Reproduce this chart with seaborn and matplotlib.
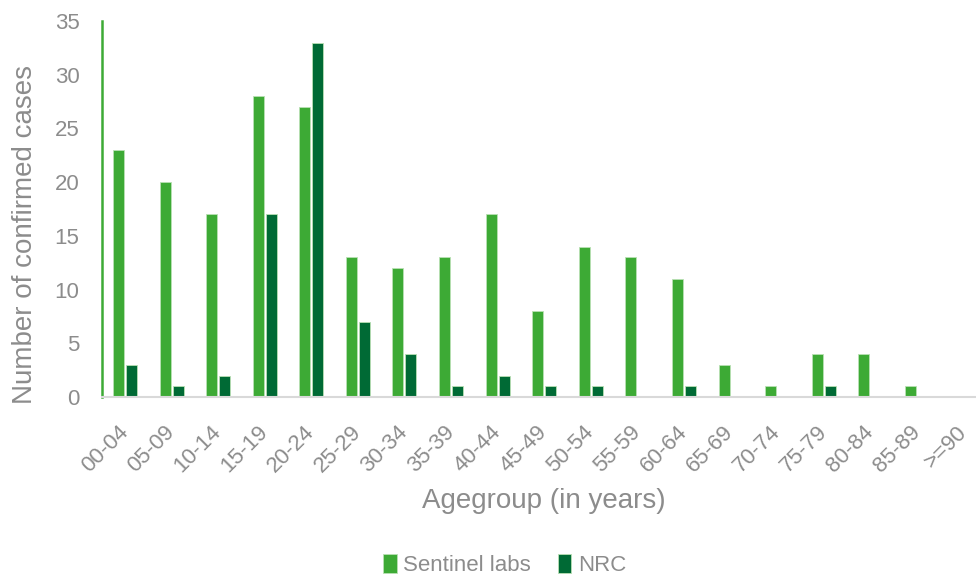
import numpy as np
import pandas as pd
import matplotlib.pyplot as plt
import seaborn as sns

# data
agegroups = ['00-04', '05-09', '10-14', '15-19', '20-24', '25-29', '30-34', '35-39',
             '40-44', '45-49', '50-54', '55-59', '60-64', '65-69', '70-74', '75-79',
             '80-84', '85-89', '>=90']
sentinel = [23, 20, 17, 28, 27, 13, 12, 13, 17, 8, 14, 13, 11, 3, 1, 4, 4, 1, 0]
nrc = [3, 1, 2, 17, 33, 7, 4, 1, 2, 1, 1, 0, 1, 0, 0, 1, 0, 0, 0]

df = pd.concat([
    pd.DataFrame({'group': agegroups, 'value': sentinel, 'source': 'Sentinel labs'}),
    pd.DataFrame({'group': agegroups, 'value': nrc, 'source': 'NRC'}),
])

sns.set_theme(style='white')
plt.rcParams['font.family'] = ['Liberation Sans', 'DejaVu Sans']

grey = '#8c8c8c'
fig = plt.figure(figsize=(9.76, 5.79), dpi=100)
# plot area runs a little past the right edge, like the original
ax = fig.add_axes([0.1042, 0.3143, 0.9068, 0.6494])

sns.barplot(data=df, x='group', y='value', hue='source',
            palette=['#3daa35', '#006a35'], saturation=1, width=0.56, gap=0.157,
            edgecolor='#b9e0b4', linewidth=0.6, ax=ax)

ax.set_ylim(0, 35)
ax.set_yticks(range(0, 36, 5))
ax.set_xlim(-0.5, len(agegroups) - 0.5)
ax.tick_params(axis='y', labelsize=16, colors=grey, length=0, pad=16)
ax.tick_params(axis='x', labelsize=16, colors=grey, length=0, pad=23)
plt.setp(ax.get_xticklabels(), rotation=45, ha='right', va='center', rotation_mode='anchor')

ax.set_xlabel('Agegroup (in years)', fontsize=20, color=grey, labelpad=8)
ax.set_ylabel('Number of confirmed cases', fontsize=20, color=grey, labelpad=12, y=0.431)

sns.despine(ax=ax)
ax.spines['left'].set_color('#3daa35')
ax.spines['left'].set_linewidth(1.8)
ax.spines['bottom'].set_color('#d9d9d9')
ax.spines['bottom'].set_linewidth(1.5)

handles, labels = ax.get_legend_handles_labels()
ax.legend_.remove()
fig.legend(handles, labels, loc='center', bbox_to_anchor=(0.517, 0.024), ncol=2,
           frameon=False, fontsize=16, labelcolor=grey, handlelength=0.6,
           handleheight=0.9, handletextpad=0.3, columnspacing=1.2)

fig.savefig('out.png', dpi=100)
